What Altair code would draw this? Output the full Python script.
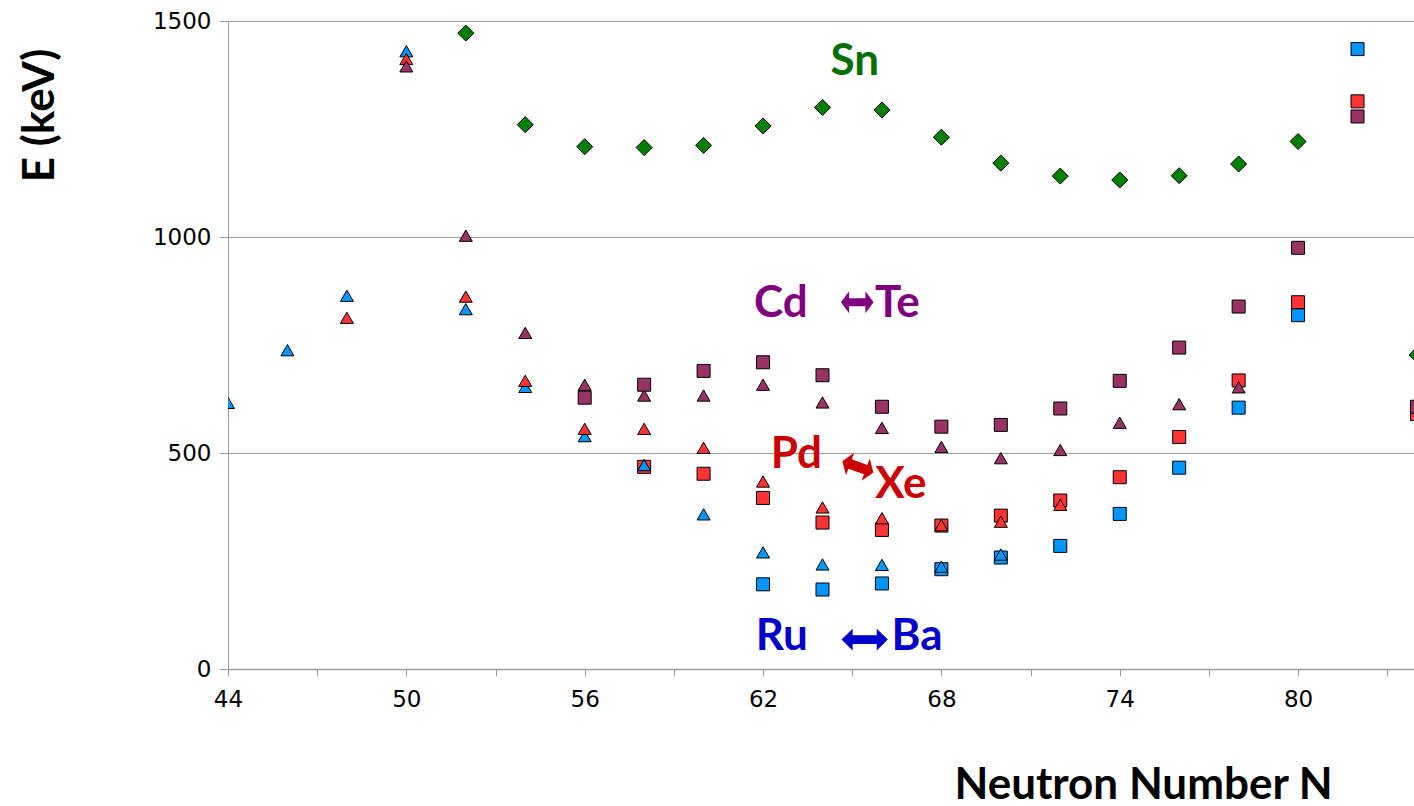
import altair as alt
import pandas as pd

# ---- data (2+ energies in keV vs neutron number N) ----
N_Ru = [44, 46, 48, 50, 52, 54, 56, 58, 60, 62, 64, 66, 68, 70]
E_Ru = [616, 738, 864, 1430, 833, 653, 539, 472, 358, 270, 242, 241, 237, 265]

N_Pd = [48, 50, 52, 54, 56, 58, 60, 62, 64, 66, 68, 70, 72]
E_Pd = [813, 1412, 862, 667, 556, 556, 512, 434, 374, 349, 333, 341, 380]

N_Cd = [50, 52, 54, 56, 58, 60, 62, 64, 66, 68, 70, 72, 74, 76, 78]
E_Cd = [1395, 1003, 778, 658, 633, 633, 658, 617, 558, 514, 488, 507, 570, 613, 652]

N_Te = [56, 58, 60, 62, 64, 66, 68, 70, 72, 74, 76, 78, 80, 82, 84]
E_Te = [628, 658, 690, 710, 680, 607, 561, 565, 603, 667, 744, 839, 975, 1279, 607]

N_Xe = [58, 60, 62, 64, 66, 68, 70, 72, 74, 76, 78, 80, 82, 84]
E_Xe = [468, 452, 396, 339, 322, 332, 355, 390, 444, 537, 668, 849, 1314, 590]

N_Ba = [62, 64, 66, 68, 70, 72, 74, 76, 78, 80, 82]
E_Ba = [196, 184, 198, 231, 258, 285, 359, 466, 605, 819, 1435]

N_Sn = [52, 54, 56, 58, 60, 62, 64, 66, 68, 70, 72, 74, 76, 78, 80, 84]
E_Sn = [1472, 1260, 1209, 1207, 1212, 1257, 1300, 1294, 1231, 1171, 1141, 1132, 1142, 1169, 1221, 727]

elements = ["Ba", "Xe", "Ru", "Pd", "Cd", "Te"]
fills = ["#0096FF", "#FF3333", "#0096FF", "#FF3333", "#993366", "#993366"]
shapes = ["square", "square", "triangle-up", "triangle-up", "triangle-up", "square"]

# annotation labels
lab_text = ["Sn", "Cd", "Te", "Pd", "Xe", "Ru", "Ba"]
lab_N = [65.09, 62.60, 66.52, 63.12, 66.64, 62.63, 67.18]
lab_E = [1374, 815, 815, 465, 395, 45, 45]
lab_color = ["#007000", "#800080", "#800080", "#CC0000", "#CC0000", "#0000CC", "#0000CC"]

# double-headed arrows
arr_N = [65.17, 65.19, 65.42]
arr_E = [849, 468, 68]
arr_color = ["#800080", "#CC0000", "#0000CC"]
arr_angle = [0, 20, 0]
arr_size = [1063, 1089, 2144]
arr_path = [
    "M-1,0L-0.5,-0.68L-0.5,-0.24L0.5,-0.24L0.5,-0.68L1,0L0.5,0.68L0.5,0.24L-0.5,0.24L-0.5,0.68Z",
    "M-1,0L-0.5,-0.72L-0.5,-0.3L0.5,-0.3L0.5,-0.72L1,0L0.5,0.72L0.5,0.3L-0.5,0.3L-0.5,0.72Z",
    "M-1,0L-0.52,-0.47L-0.52,-0.19L0.52,-0.19L0.52,-0.47L1,0L0.52,0.47L0.52,0.19L-0.52,0.19L-0.52,0.47Z",
]

# ---- tables ----
series = {
    "Ba": (N_Ba, E_Ba), "Xe": (N_Xe, E_Xe), "Ru": (N_Ru, E_Ru),
    "Pd": (N_Pd, E_Pd), "Cd": (N_Cd, E_Cd), "Te": (N_Te, E_Te),
}
rows = []
for el in elements:
    ns, es = series[el]
    for n, e in zip(ns, es):
        rows.append({"N": n, "E": e, "element": el})
df = pd.DataFrame(rows)
df_sn = pd.DataFrame({"N": N_Sn, "E": E_Sn})
df_lab = pd.DataFrame({"N": lab_N, "E": lab_E, "text": lab_text, "color": lab_color})
df_arr = pd.DataFrame({"N": arr_N, "E": arr_E, "color": arr_color, "angle": arr_angle,
                       "size": arr_size, "path": arr_path})

GRAY = "#9a9a9a"

x_enc = alt.X(
    "N:Q",
    scale=alt.Scale(domain=[44, 83.9], nice=False, zero=False),
    axis=alt.Axis(
        values=list(range(44, 84, 3)),
        labelExpr="(datum.value - 44) % 6 == 0 ? datum.label : ''",
        grid=False, tickSize=7, tickColor=GRAY, tickWidth=1,
        domainColor=GRAY, domainWidth=1.5,
        labelFont="DejaVu Sans", labelFontSize=23, labelColor="black",
        labelPadding=12, labelFlush=False, labelOverlap=False,
        title="Neutron Number N", titleFont="Lato", titleFontSize=44,
        titleFontWeight="bold", titleColor="black",
        titleX=915, titleY=129, titleAlign="center", titleBaseline="alphabetic",
    ),
)
y_enc = alt.Y(
    "E:Q",
    scale=alt.Scale(domain=[0, 1500], nice=False),
    axis=alt.Axis(
        values=[0, 500, 1000, 1500], format="d",
        grid=True, gridColor=GRAY, gridWidth=1,
        tickSize=9, tickColor=GRAY, domainColor=GRAY, domainWidth=1,
        labelFont="DejaVu Sans", labelFontSize=23, labelColor="black", labelPadding=8,
        title="E (keV)", titleFont="Lato", titleFontSize=44, titleFontWeight="bold",
        titleColor="black", titleX=-175, titleY=94, titleAlign="center",
        titleBaseline="alphabetic",
    ),
)

pts = alt.Chart(df).mark_point(
    filled=True, stroke="black", strokeWidth=1, opacity=1, size=169, clip=True
).encode(
    x=x_enc, y=y_enc,
    color=alt.Color("element:N", scale=alt.Scale(domain=elements, range=fills), legend=None),
    shape=alt.Shape("element:N", scale=alt.Scale(domain=elements, range=shapes), legend=None),
)

sn = alt.Chart(df_sn).mark_point(
    filled=True, shape="diamond", fill="#008000", stroke="black", strokeWidth=1,
    opacity=1, size=256, clip=True
).encode(x="N:Q", y="E:Q")

arrows = alt.Chart(df_arr).mark_point(filled=True, opacity=1, strokeWidth=0).encode(
    x="N:Q", y="E:Q",
    color=alt.Color("color:N", scale=None),
    shape=alt.Shape("path:N", scale=None),
    size=alt.Size("size:Q", scale=None),
    angle=alt.Angle("angle:Q", scale=None),
)

labels = alt.Chart(df_lab).mark_text(
    font="Lato", fontWeight="bold", fontSize=44, align="center", baseline="alphabetic"
).encode(
    x="N:Q", y="E:Q", text="text:N", color=alt.Color("color:N", scale=None)
)

chart = alt.layer(pts, sn, arrows, labels).properties(
    width=1186, height=648,
    autosize=alt.AutoSizeParams(type="none"),
    padding={"left": 228, "top": 21, "right": 0, "bottom": 137},
    background="white",
).configure_view(stroke=None)

chart.save("out.html", embed_options={"renderer": "svg", "actions": False})
